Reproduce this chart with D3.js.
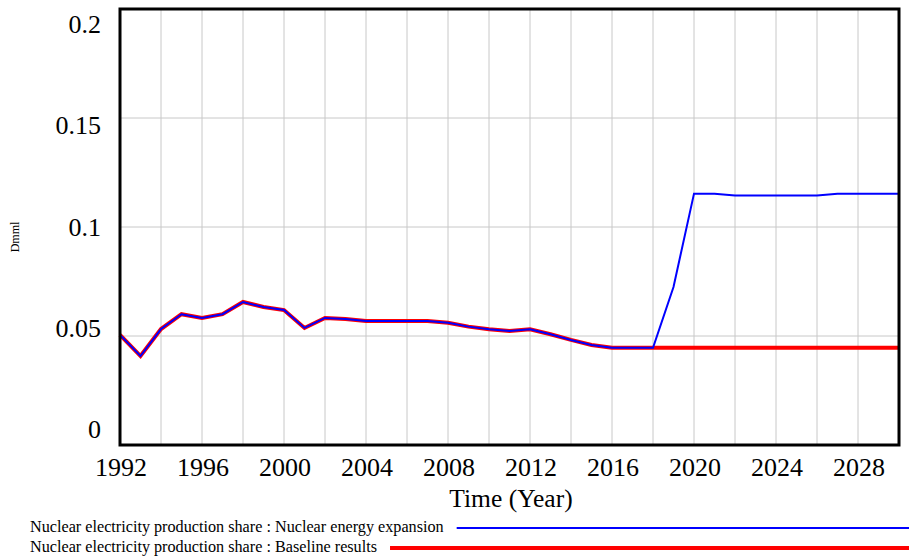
<!DOCTYPE html>
<html>
<head>
<meta charset="utf-8">
<script src="https://cdn.jsdelivr.net/npm/d3@7"></script>
<style>
  body { margin: 0; background: #fff; }
  text { font-family: "Liberation Serif", "Times New Roman", serif; }
</style>
</head>
<body>
<div id="chart"></div>
<script>
// chart size
var width = 909,
    height = 557;

var margin = {left: 120, right: 10, top: 9, bottom: 112};

// years and series values
var years = d3.range(1992, 2031);

var baseline = [0.0505, 0.0408, 0.0532, 0.0600, 0.0583, 0.0600, 0.0656, 0.0633, 0.0619, 0.0537,
                0.0583, 0.0578, 0.0569, 0.0569, 0.0569, 0.0569, 0.0561, 0.0543, 0.0531, 0.0523,
                0.0531, 0.0508, 0.0482, 0.0459, 0.0446, 0.0446, 0.0446, 0.0446, 0.0446, 0.0446,
                0.0446, 0.0446, 0.0446, 0.0446, 0.0446, 0.0446, 0.0446, 0.0446, 0.0446];

var expansion = [0.0505, 0.0408, 0.0532, 0.0600, 0.0583, 0.0600, 0.0656, 0.0633, 0.0619, 0.0537,
                 0.0583, 0.0578, 0.0569, 0.0569, 0.0569, 0.0569, 0.0561, 0.0543, 0.0531, 0.0523,
                 0.0531, 0.0508, 0.0482, 0.0459, 0.0446, 0.0446, 0.0446, 0.0725, 0.1153, 0.1153,
                 0.1145, 0.1145, 0.1145, 0.1145, 0.1145, 0.1153, 0.1153, 0.1153, 0.1153];

var yTicks = [0, 0.05, 0.1, 0.15, 0.2];
var xLabelYears = d3.range(1992, 2029, 4);
var xGridYears = d3.range(1992, 2031, 2);

var legendLabels = ["Nuclear electricity production share : Nuclear energy expansion",
                    "Nuclear electricity production share : Baseline results"];

var svg = d3.select("#chart").append("svg")
    .attr("width", width)
    .attr("height", height);

var x = d3.scaleLinear().domain([1992, 2030]).range([margin.left, 899]);
var y = d3.scaleLinear().domain([0, 0.2]).range([445, margin.top]);
// vensim spreads the value labels evenly between top and bottom
var yLab = d3.scaleLinear().domain([0, 0.2]).range([438, 33]);

// grid
svg.append("g")
    .selectAll("line")
    .data(xGridYears)
    .enter().append("line")
    .attr("x1", function(d) { return x(d); })
    .attr("x2", function(d) { return x(d); })
    .attr("y1", y(0.2))
    .attr("y2", y(0))
    .attr("stroke", "#c8c8c8")
    .attr("stroke-width", 1);

svg.append("g")
    .selectAll("line")
    .data(yTicks)
    .enter().append("line")
    .attr("x1", x(1992))
    .attr("x2", x(2030))
    .attr("y1", function(d) { return y(d); })
    .attr("y2", function(d) { return y(d); })
    .attr("stroke", "#c8c8c8")
    .attr("stroke-width", 1);

// lines
var line = function(vals) {
    return d3.line()
        .x(function(d, i) { return x(years[i]); })
        .y(function(d) { return y(d); })(vals);
};

svg.append("path")
    .attr("d", line(baseline))
    .attr("fill", "none")
    .attr("stroke", "#ff0000")
    .attr("stroke-width", 4);

svg.append("path")
    .attr("d", line(expansion))
    .attr("fill", "none")
    .attr("stroke", "#0000ff")
    .attr("stroke-width", 2);

// frame
svg.append("rect")
    .attr("x", x(1992))
    .attr("y", y(0.2))
    .attr("width", x(2030) - x(1992))
    .attr("height", y(0) - y(0.2))
    .attr("fill", "none")
    .attr("stroke", "#000")
    .attr("stroke-width", 3);

// y labels
svg.append("g")
    .selectAll("text")
    .data(yTicks)
    .enter().append("text")
    .attr("x", 101)
    .attr("y", function(d) { return yLab(d); })
    .attr("text-anchor", "end")
    .attr("font-size", 26)
    .text(function(d) { return d3.format("")(d); });

// x labels
svg.append("g")
    .selectAll("text")
    .data(xLabelYears)
    .enter().append("text")
    .attr("x", function(d) { return x(d) + 1; })
    .attr("y", 476)
    .attr("text-anchor", "middle")
    .attr("font-size", 26)
    .text(function(d) { return d; });

svg.append("text")
    .attr("x", 511)
    .attr("y", 507)
    .attr("text-anchor", "middle")
    .attr("font-size", 25.5)
    .text("Time (Year)");

svg.append("text")
    .attr("transform", "translate(19,237) rotate(-90)")
    .attr("text-anchor", "middle")
    .attr("font-size", 12)
    .text("Dmml");

// legend
var legendColors = ["#0000ff", "#ff0000"],
    legendWidths = [2, 4],
    legendY = [532, 552];

legendLabels.forEach(function(lab, i) {
    var t = svg.append("text")
        .attr("x", 30)
        .attr("y", legendY[i])
        .attr("font-size", 16.2)
        .text(lab);
    var w = t.node().getComputedTextLength();
    svg.append("line")
        .attr("x1", 30 + w + 13)
        .attr("x2", 909)
        .attr("y1", legendY[i] - 4)
        .attr("y2", legendY[i] - 4)
        .attr("stroke", legendColors[i])
        .attr("stroke-width", legendWidths[i]);
});
</script>
</body>
</html>
